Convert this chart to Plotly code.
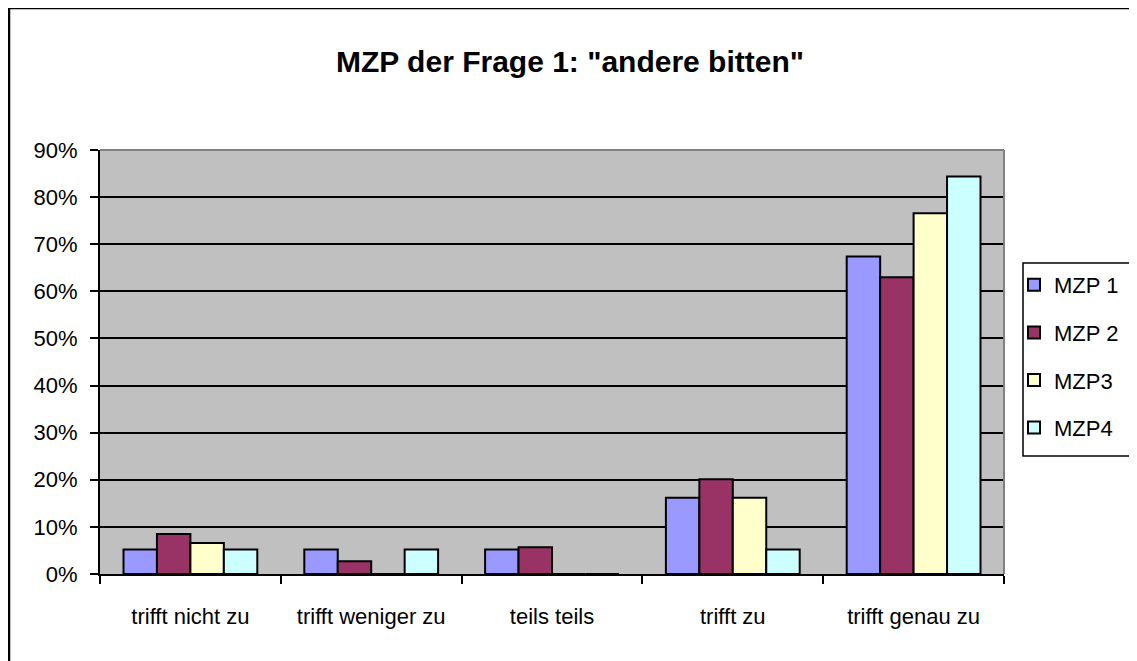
import plotly.graph_objects as go

categories = ["trifft nicht zu", "trifft weniger zu", "teils teils", "trifft zu", "trifft genau zu"]
mzp1 = [0.052, 0.052, 0.052, 0.162, 0.674]
mzp2 = [0.085, 0.027, 0.057, 0.201, 0.630]
mzp3 = [0.066, 0.0, 0.0, 0.162, 0.766]
mzp4 = [0.052, 0.052, 0.0, 0.052, 0.844]
series_names = ["MZP 1", "MZP 2", "MZP3", "MZP4"]
series_colors = ["#9999FF", "#993366", "#FFFFCC", "#CCFFFF"]
y_ticks = [0, 0.1, 0.2, 0.3, 0.4, 0.5, 0.6, 0.7, 0.8, 0.9]

OFF = 8  # page body margin
W, H = 1137 - OFF, 661 - OFF
L, R, T, B = 100 - OFF, 1004 - OFF, 150 - OFF, 574 - OFF

def px(x):
    return (x - OFF - L) / (R - L)

def py(y):
    return (B - (y - OFF)) / (B - T)

fig = go.Figure()
for i, (name, vals) in enumerate(zip(series_names, [mzp1, mzp2, mzp3, mzp4])):
    fig.add_trace(go.Bar(
        x=categories, y=vals, name=name,
        marker=dict(color=series_colors[i], line=dict(color="black", width=2)),
        legendgroup=f"g{i}",
    ))

FONT = "Liberation Sans, Arial, sans-serif"

fig.update_layout(
    width=W, height=H,
    margin=dict(l=L, r=W - R, t=T, b=H - B, pad=0),
    paper_bgcolor="white",
    plot_bgcolor="#C0C0C0",
    barmode="group",
    bargap=0.26,
    bargroupgap=0,
    font=dict(family=FONT, size=22, color="black"),
    title=dict(text='<b>MZP der Frage 1: "andere bitten"</b>', x=(570 - OFF) / W, xref="container",
               y=1 - (61 - OFF) / H, yref="container", xanchor="center", yanchor="middle",
               font=dict(family=FONT, size=30, color="black")),
    legend=dict(x=px(1014), y=py(264), xanchor="left", yanchor="top",
                bgcolor="rgba(0,0,0,0)", borderwidth=0,
                font=dict(family=FONT, size=22, color="black"),
                tracegroupgap=16, itemwidth=30),
    showlegend=True,
)

fig.update_yaxes(range=[0, 0.9], tickvals=y_ticks, tickformat=".0%",
                 showgrid=True, gridcolor="black", gridwidth=2,
                 zeroline=False, showline=True, linecolor="black", linewidth=2,
                 ticks="outside", ticklen=8, tickwidth=2, tickcolor="black",
                 ticklabelstandoff=8, fixedrange=True)
fig.update_xaxes(showgrid=False, showline=True, linecolor="black", linewidth=2,
                 ticks="outside", tickson="boundaries", ticklen=8, tickwidth=2,
                 tickcolor="black", ticklabelstandoff=22, fixedrange=True)

# plot-area border (top and right in gray)
fig.add_shape(type="line", xref="paper", yref="paper", x0=0, x1=1, y0=1, y1=1,
              line=dict(color="#808080", width=2), layer="above")
fig.add_shape(type="line", xref="paper", yref="paper", x0=1, x1=1, y0=0, y1=1,
              line=dict(color="#808080", width=2), layer="above")
# outer chart border
fig.add_shape(type="rect", xref="paper", yref="paper",
              x0=px(9), x1=px(1150), y0=py(680), y1=py(8),
              line=dict(color="black", width=2.5), layer="above")
# legend box
fig.add_shape(type="rect", xref="paper", yref="paper",
              x0=px(1023), x1=px(1150), y0=py(456), y1=py(263),
              line=dict(color="black", width=1.5), layer="above")

fig.write_html("out.html")
